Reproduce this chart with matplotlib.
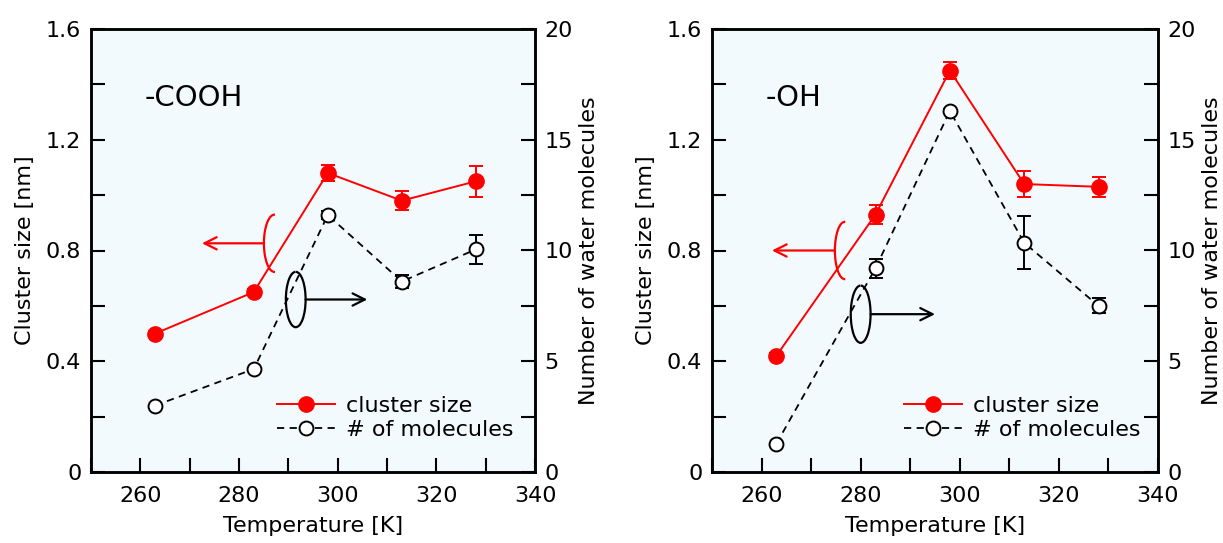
import matplotlib
matplotlib.use("Agg")
import matplotlib.pyplot as plt
from matplotlib.lines import Line2D
from matplotlib.patches import Arc
from matplotlib.ticker import MultipleLocator

# temperatures [K]
temps = [263, 283, 298, 313, 328]

# -COOH surface
cooh_size = [0.50, 0.65, 1.08, 0.98, 1.05]
cooh_size_err = [0.01, 0.012, 0.03, 0.035, 0.055]
cooh_n = [3.0, 4.65, 11.6, 8.6, 10.05]
cooh_n_err = [0.0, 0.0, 0.2, 0.3, 0.65]

# -OH surface
oh_size = [0.42, 0.93, 1.45, 1.04, 1.03]
oh_size_err = [0.01, 0.033, 0.03, 0.048, 0.037]
oh_n = [1.28, 9.2, 16.3, 10.35, 7.5]
oh_n_err = [0.0, 0.43, 0.1, 1.2, 0.34]

panel_labels = ["-COOH", "-OH"]
x_ticks = [260, 280, 300, 320, 340]
left_ticks = [0, 0.4, 0.8, 1.2, 1.6]
left_tick_labels = ["0", "0.4", "0.8", "1.2", "1.6"]
right_ticks = [0, 5, 10, 15, 20]

BG = "#f3fafd"
FS = 16


def draw_loop(ax, cx, cy, w, h, color, t1, t2, x_tip):
    """Ring around a curve with an arrow pointing to its axis."""
    ax.add_patch(Arc((cx, cy), w, h, theta1=t1, theta2=t2, color=color, lw=1.6, zorder=6))
    start = cx - w / 2 if x_tip < cx else cx + w / 2
    ax.annotate("", xy=(x_tip, cy), xytext=(start, cy),
                arrowprops=dict(arrowstyle="->", color=color, lw=1.6, mutation_scale=22,
                                shrinkA=0, shrinkB=0), zorder=6)


def plot_panel(ax, size, size_err, n, n_err, label, loops, leg_x):
    ax.set_facecolor(BG)
    ax2 = ax.twinx()

    ax2.errorbar(temps, n, yerr=n_err, color="black", ls=(0, (4, 3)), lw=1.3,
                 marker="o", ms=10, mfc="white", mec="black", mew=1.4,
                 capsize=5, capthick=1.4, elinewidth=1.4, zorder=3)
    ax2.errorbar(temps, [v * 12.5 for v in size], yerr=[e * 12.5 for e in size_err],
                 color="red", lw=1.4, marker="o", ms=11, mfc="red", mec="red",
                 capsize=5, capthick=1.4, elinewidth=1.4, zorder=4)

    ax.set_xlim(250, 340)
    ax.set_ylim(0, 1.6)
    ax2.set_ylim(0, 20)
    ax.set_xticks(x_ticks)
    ax.xaxis.set_minor_locator(MultipleLocator(10))
    ax.set_yticks(left_ticks)
    ax.set_yticklabels(left_tick_labels)
    ax.yaxis.set_minor_locator(MultipleLocator(0.2))
    ax2.set_yticks(right_ticks)
    ax2.yaxis.set_minor_locator(MultipleLocator(2.5))

    for a in (ax, ax2):
        a.tick_params(which="both", direction="in", length=10, width=1.5, labelsize=FS, pad=7)
        for s in a.spines.values():
            s.set_linewidth(1.8)
    ax.tick_params(which="both", right=False, top=False)
    ax.tick_params(axis="x", pad=10)
    ax2.tick_params(which="both", left=False, top=False)

    ax.set_xlabel("Temperature [K]", fontsize=FS, labelpad=7)
    ax.set_ylabel("Cluster size [nm]", fontsize=FS, labelpad=8)
    ax2.set_ylabel("Number of water molecules", fontsize=FS, labelpad=4)

    ax.text(0.12, 0.845, label, transform=ax.transAxes, fontsize=21, va="center")

    for lp in loops:
        draw_loop(ax, *lp)

    h1 = Line2D([], [], color="red", lw=1.4, marker="o", ms=11, mfc="red", mec="red")
    h2 = Line2D([], [], color="black", ls=(0, (4, 3)), lw=1.3, marker="o", ms=10,
                mfc="white", mec="black", mew=1.4)
    ax2.legend([h1, h2], ["cluster size", "# of molecules"], loc="center left",
               bbox_to_anchor=(leg_x, 0.122), frameon=False, fontsize=FS,
               handlelength=2.6, handletextpad=0.5, labelspacing=0.2,
               borderpad=0, borderaxespad=0)


fig = plt.figure(figsize=(12.23, 5.43), dpi=100)
ax_l = fig.add_axes([91 / 1223, 71 / 543, 444 / 1223, 443 / 543])
ax_r = fig.add_axes([712 / 1223, 71 / 543, 446 / 1223, 443 / 543])

plot_panel(ax_l, cooh_size, cooh_size_err, cooh_n, cooh_n_err, panel_labels[0],
           [(287.2, 0.826, 4.3, 0.207, "red", 50, 310, 272.5),
            (291.5, 0.623, 4.0, 0.20, "black", 110, 420, 306.0)], 0.42)
plot_panel(ax_r, oh_size, oh_size_err, oh_n, oh_n_err, panel_labels[1],
           [(276.8, 0.80, 4.0, 0.207, "red", 50, 310, 262.1),
            (280.0, 0.57, 4.0, 0.207, "black", 110, 420, 295.0)], 0.43)

fig.savefig("out.png", dpi=100)
